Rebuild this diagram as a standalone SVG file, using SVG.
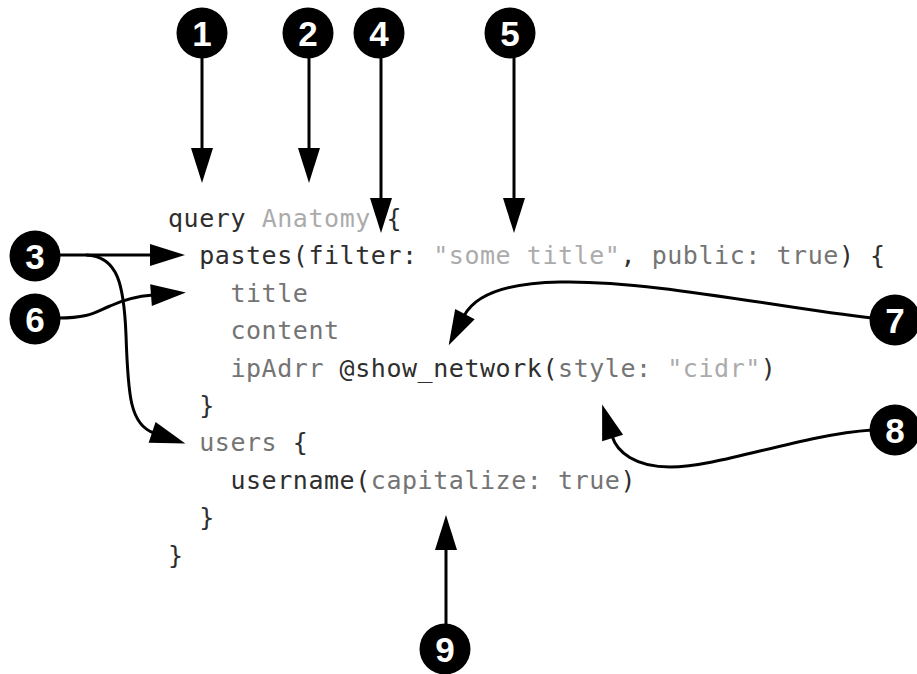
<svg xmlns="http://www.w3.org/2000/svg" width="917" height="674" viewBox="0 0 917 674">
<defs>
<style>
.code{font-family:"DejaVu Sans Mono","Liberation Mono",monospace;font-size:25px;letter-spacing:0.55px}
.d{fill:#2e2e2e}.m{fill:#747474}.l{fill:#ababab}
.badge circle{fill:#000}
.num{font-family:"Liberation Sans",Arial,sans-serif;font-weight:bold;font-size:35px;fill:#fff;text-anchor:middle}
#connectors path{fill:none;stroke:#000;stroke-width:3;marker-end:url(#ah)}
</style>
<marker id="ah" markerUnits="userSpaceOnUse" markerWidth="40" markerHeight="24" refX="2" refY="11" orient="auto" overflow="visible"><path d="M0,0 L35,11 L0,22 Z" fill="#000"/></marker>
</defs>
<rect width="917" height="674" fill="#fff"/>

<g id="code" class="code">
<text x="168" y="227" xml:space="preserve"><tspan class="d">query</tspan> <tspan class="l">Anatomy</tspan> <tspan class="d">{</tspan></text>
<text x="199.2" y="264.4" xml:space="preserve"><tspan class="d">pastes(filter:</tspan> <tspan class="l">"some title"</tspan><tspan class="d">,</tspan> <tspan class="m">public: true</tspan><tspan class="d">) {</tspan></text>
<text x="230.4" y="301.8" class="m">title</text>
<text x="230.4" y="339.2" class="m">content</text>
<text x="230.4" y="376.6" xml:space="preserve"><tspan class="m">ipAdrr</tspan> <tspan class="d">@show_network(</tspan><tspan class="m">style:</tspan> <tspan class="l">"cidr"</tspan><tspan class="d">)</tspan></text>
<text x="199.2" y="414" class="d">}</text>
<text x="199.2" y="451.4" xml:space="preserve"><tspan class="m">users</tspan> <tspan class="d">{</tspan></text>
<text x="230.4" y="488.8" xml:space="preserve"><tspan class="d">username(</tspan><tspan class="m">capitalize: true</tspan><tspan class="d">)</tspan></text>
<text x="199.2" y="526.2" class="d">}</text>
<text x="168" y="563.6" class="d">}</text>
</g>

<g id="connectors">
<path d="M202 58 V150"/>
<path d="M309 58 V150"/>
<path d="M381 58 V200"/>
<path d="M514 58 V200"/>
<path d="M58 255 H152"/>
<path d="M86 255 C118 256 124 285 126 335 C128 395 130 425 154 433"/>
<path d="M58 318 C90 318 95 312 110 306 C125 299 140 296 153 295"/>
<path d="M872 318 C780 308 650 280 560 282 C505 283 475 295 464 316"/>
<path d="M872 430 C800 435 720 467 670 467 C635 467 617 452 612 436"/>
<path d="M446 624 V548"/>
</g>

<g id="n1" class="badge"><circle cx="202" cy="33" r="25.5"/><text class="num" x="202" y="45.5">1</text></g>
<g id="n2" class="badge"><circle cx="308" cy="33" r="25.5"/><text class="num" x="308" y="45.5">2</text></g>
<g id="n3" class="badge"><circle cx="35" cy="256" r="25.5"/><text class="num" x="35" y="268.5">3</text></g>
<g id="n4" class="badge"><circle cx="379" cy="33" r="25.5"/><text class="num" x="379" y="45.5">4</text></g>
<g id="n5" class="badge"><circle cx="510" cy="33" r="25.5"/><text class="num" x="510" y="45.5">5</text></g>
<g id="n6" class="badge"><circle cx="35" cy="319" r="25.5"/><text class="num" x="35" y="331.5">6</text></g>
<g id="n7" class="badge"><circle cx="895" cy="320" r="25.5"/><text class="num" x="895" y="332.5">7</text></g>
<g id="n8" class="badge"><circle cx="895" cy="430" r="25.5"/><text class="num" x="895" y="442.5">8</text></g>
<g id="n9" class="badge"><circle cx="445" cy="649" r="25.5"/><text class="num" x="445" y="661.5">9</text></g>
</svg>
